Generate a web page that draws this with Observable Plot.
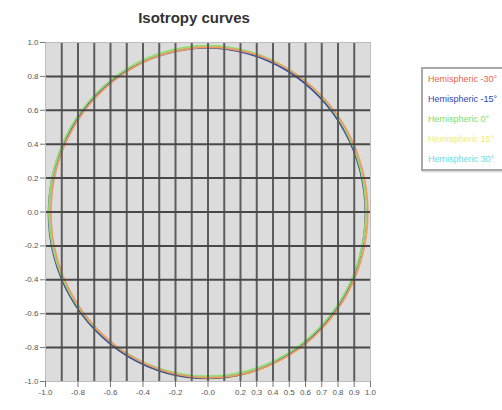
<!DOCTYPE html>
<html><head><meta charset="utf-8">
<script src="https://cdn.jsdelivr.net/npm/d3@7"></script>
<script src="https://cdn.jsdelivr.net/npm/@observablehq/plot@0.6"></script>
<style>
html,body{margin:0;padding:0;background:#fff}
body{width:502px;height:410px;overflow:hidden;position:relative;font-family:"Liberation Sans",Arial,sans-serif}
#title{position:absolute;left:0;width:388px;top:9px;text-align:center;font-weight:bold;font-size:15px;color:#333}
#chart{position:absolute;left:0;top:0}
#legend{position:absolute;left:421px;top:67px;width:120px;height:100px;border:2px solid #a8a8a8;background:#fff;box-shadow:1px 1px 2px #ccc}
.item{position:absolute;left:5px;font-size:9px;white-space:nowrap;line-height:11px}
</style></head>
<body>
<div id="chart"></div>
<div id="title">Isotropy curves</div>
<div id="legend"></div>
<script>
const seriesNames = ["Hemispheric -30°","Hemispheric -15°","Hemispheric 0°","Hemispheric 15°","Hemispheric 30°"];
const seriesColors = ["#ee9a68","#3a5296","#8fe070","#f1ee7a","#7fe4ee"];
const legendColors = ["#e8644a","#2e46b4","#7edc6a","#eeee70","#66dcec"];

const xTicks = [-1.0,-0.8,-0.6,-0.4,-0.2,0.0,0.2,0.3,0.4,0.5,0.6,0.7,0.8,0.9,1.0];
const xTickLabels = ["-1.0","-0.8","-0.6","-0.4","-0.2","-0.0","0.2","0.3","0.4","0.5","0.6","0.7","0.8","0.9","1.0"];
const yTicks = [-1.0,-0.8,-0.6,-0.4,-0.2,0.0,0.2,0.4,0.6,0.8,1.0];
const yTickLabels = ["-1.0","-0.8","-0.6","-0.4","-0.2","0.0","0.2","0.4","0.6","0.8","1.0"];
const vGrid = [-0.9,-0.8,-0.7,-0.6,-0.5,-0.4,-0.3,-0.2,-0.1,0.0,0.1,0.2,0.3,0.4,0.5,0.6,0.7,0.8,0.9];
const hGrid = [-0.8,-0.6,-0.4,-0.2,0.0,0.2,0.4,0.6,0.8];

// curve points (x, y) read around each isotropy curve
const m30x = [0.983,0.950,0.852,0.697,0.496,0.260,0.008,-0.244,-0.480,-0.681,-0.836,-0.934,-0.967,-0.934,-0.836,-0.681,-0.480,-0.244,0.008,0.260,0.496,0.697,0.852,0.950];
const m30y = [-0.003,0.249,0.485,0.686,0.841,0.939,0.972,0.939,0.841,0.686,0.485,0.249,-0.003,-0.255,-0.491,-0.692,-0.847,-0.945,-0.978,-0.945,-0.847,-0.692,-0.491,-0.255];
const m15x = [0.969,0.936,0.838,0.683,0.482,0.246,-0.006,-0.258,-0.494,-0.695,-0.850,-0.948,-0.981,-0.948,-0.850,-0.695,-0.494,-0.258,-0.006,0.246,0.482,0.683,0.838,0.936];
const m15y = [-0.007,0.245,0.481,0.682,0.837,0.935,0.968,0.935,0.837,0.682,0.481,0.245,-0.007,-0.259,-0.495,-0.696,-0.851,-0.949,-0.982,-0.949,-0.851,-0.696,-0.495,-0.259];
const p0x = [0.971,0.938,0.840,0.685,0.484,0.248,-0.004,-0.256,-0.492,-0.693,-0.848,-0.946,-0.979,-0.946,-0.848,-0.693,-0.492,-0.256,-0.004,0.248,0.484,0.685,0.840,0.938];
const p0y = [0.006,0.258,0.494,0.695,0.850,0.948,0.981,0.948,0.850,0.695,0.494,0.258,0.006,-0.246,-0.482,-0.683,-0.838,-0.936,-0.969,-0.936,-0.838,-0.683,-0.482,-0.246];
const p15x = [0.980,0.947,0.849,0.693,0.490,0.254,0.000,-0.254,-0.490,-0.693,-0.849,-0.947,-0.980,-0.947,-0.849,-0.693,-0.490,-0.254,0.000,0.254,0.490,0.693,0.849,0.947];
const p15y = [-0.004,0.250,0.486,0.689,0.845,0.943,0.976,0.943,0.845,0.689,0.486,0.250,-0.004,-0.258,-0.494,-0.697,-0.853,-0.951,-0.984,-0.951,-0.853,-0.697,-0.494,-0.258];
const p30x = [0.975,0.942,0.844,0.689,0.488,0.252,0.000,-0.252,-0.488,-0.689,-0.844,-0.942,-0.975,-0.942,-0.844,-0.689,-0.488,-0.252,0.000,0.252,0.488,0.689,0.844,0.942];
const p30y = [0.000,0.252,0.488,0.689,0.844,0.942,0.975,0.942,0.844,0.689,0.488,0.252,0.000,-0.252,-0.488,-0.689,-0.844,-0.942,-0.975,-0.942,-0.844,-0.689,-0.488,-0.252];

const seriesX = [m30x, m15x, p0x, p15x, p30x];
const seriesY = [m30y, m15y, p0y, p15y, p30y];
const drawOrder = [4, 3, 1, 2, 0];

const rows = [];
for (const s of drawOrder) {
  seriesX[s].forEach((x, i) => rows.push({series: seriesNames[s], x, y: seriesY[s][i]}));
}

const xLab = new Map(xTicks.map((t, i) => [t, xTickLabels[i]]));
const yLab = new Map(yTicks.map((t, i) => [t, yTickLabels[i]]));

const chart = Plot.plot({
  width: 380, height: 410,
  marginLeft: 45, marginRight: 10, marginTop: 42, marginBottom: 29,
  style: {fontSize: "8px", fontFamily: "'Liberation Sans', Arial, sans-serif", color: "#555", background: "transparent"},
  x: {domain: [-1, 1]},
  y: {domain: [-1, 1]},
  color: {domain: seriesNames, range: seriesColors},
  marks: [
    Plot.frame({fill: "#dcdcdc", stroke: null}),
    Plot.line(rows, {x: "x", y: "y", z: "series", stroke: "series", strokeWidth: 1.8, curve: "catmull-rom-closed"}),
    Plot.ruleX(vGrid, {stroke: "#5c5c5c", strokeWidth: 2}),
    Plot.ruleY(hGrid, {stroke: "#484848", strokeWidth: 2}),
    Plot.frame({stroke: "#bdbdbd"}),
    Plot.axisX({ticks: xTicks, tickFormat: d => xLab.get(d), tickSize: 6, tickPadding: 2, label: null, stroke: "#777"}),
    Plot.axisY({ticks: yTicks, tickFormat: d => yLab.get(d), tickSize: 5, tickPadding: 2, label: null, stroke: "#777"})
  ]
});
document.getElementById("chart").appendChild(chart);

const legend = document.getElementById("legend");
seriesNames.forEach((name, i) => {
  const d = document.createElement("div");
  d.className = "item";
  d.style.top = (5 + i * 20) + "px";
  d.style.color = legendColors[i];
  d.textContent = name;
  legend.appendChild(d);
});
</script>
</body></html>
